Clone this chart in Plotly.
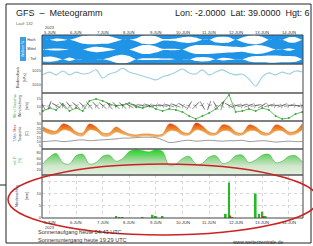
import plotly.graph_objects as go

W, H = 313, 246

# ---------------- data ----------------
day_labels = ["5.JUN", "6.JUN", "7.JUN", "8.JUN", "9.JUN", "10.JUN",
              "11.JUN", "12.JUN", "13.JUN", "14.JUN"]
year_label = "2023"
hours = [-6 + 6 * i for i in range(40)]          # hours since 5.JUN 00 UTC

cloud_high = [0, 0, 30, 20, 0, 40, 90, 100, 100, 90, 80, 40, 0, 0, 30, 90, 100, 80, 20, 20,
              30, 60, 70, 50, 0, 0, 60, 70, 60, 0, 50, 90, 100, 70, 0, 0, 0, 60, 60, 0]
cloud_mid = [0, 15, 20, 15, 0, 0, 0, 40, 60, 50, 30, 0, 0, 0, 50, 100, 100, 70, 15, 15,
             15, 0, 60, 100, 100, 100, 90, 80, 70, 60, 50, 80, 100, 90, 50, 0, 0, 30, 0, 0]
cloud_low = [50, 60, 40, 0, 40, 0, 0, 0, 0, 0, 30, 80, 100, 70, 0, 20, 20, 20, 15, 15,
             0, 0, 0, 40, 50, 40, 0, 30, 20, 0, 0, 50, 70, 70, 80, 80, 70, 70, 60, 0]

pressure = [1013.6, 1014.6, 1013.6, 1015.0, 1013.6, 1014.6, 1013.9, 1014.3, 1015.4, 1012.5,
            1013.9, 1014.6, 1016.0, 1014.6, 1013.9, 1013.2, 1012.5, 1011.8, 1012.9, 1013.6,
            1014.6, 1015.7, 1014.3, 1013.9, 1015.4, 1013.6, 1014.6, 1015.4, 1014.3, 1013.6,
            1013.9, 1012.1, 1009.6, 1012.9, 1014.3, 1013.6, 1014.6, 1013.9, 1015.0, 1014.6]

wind_speed = [6.8, 8.8, 7.5, 11.6, 6.8, 8.8, 6.8, 13.6, 15.0, 13.6, 11.6, 10.2, 10.9, 12.2,
              9.5, 8.8, 10.2, 8.2, 6.8, 8.2, 7.5, 6.1, 3.4, 1.4, 3.4, 5.4, 8.2, 12.2, 17.7,
              6.1, 6.8, 8.2, 6.8, 8.8, 7.5, 3.4, 1.4, 2.0, 4.8, 6.1]
wind_dir = [330, 20, 300, 315, 320, 310, 315, 320, 315, 310, 320, 315, 310, 300, 290, 280,
            285, 275, 280, 285, 290, 300, 30, 45, 150, 200, 330, 20, 300, 80, 75, 70, 80, 60,
            75, 85, 70, 80, 90, 75]

temp_hi = [26.6, 23.2, 22.0, 30.0, 27.7, 20.9, 19.8, 30.0, 26.6, 19.8, 19.8, 26.6, 22.0, 18.6,
           17.5, 18.6, 18.6, 17.5, 18.6, 30.0, 27.7, 20.9, 19.8, 31.1, 27.7, 20.9, 19.8, 28.9,
           27.7, 20.9, 19.8, 28.9, 26.6, 20.9, 19.8, 28.9, 26.6, 20.9, 22.0, 30.0]
temp_lo = [22.0, 18.6, 18.6, 23.2, 22.0, 17.5, 16.4, 23.2, 22.0, 16.4, 16.4, 20.9, 18.6, 16.4,
           15.2, 16.4, 16.4, 15.2, 16.4, 22.0, 22.0, 17.5, 17.5, 23.2, 22.0, 17.5, 17.5, 22.0,
           22.0, 17.5, 17.5, 22.0, 22.0, 17.5, 17.5, 22.0, 22.0, 17.5, 18.6, 23.2]
dewpoint = [10, 10.5, 11, 10, 10.5, 11.5, 12, 11, 11.5, 12, 12.5, 13, 14, 14, 14.5, 15, 15,
            14.5, 12, 9, 9.5, 11, 11.5, 10.5, 11, 11.5, 11, 10.5, 11, 11, 11.5, 10, 10.5, 11,
            10.5, 9.5, 10, 10.5, 10, 10]

humidity = [40, 65, 78, 45, 40, 70, 75, 40, 45, 68, 72, 50, 60, 85, 92, 88, 84, 92, 85, 35,
            40, 60, 68, 40, 42, 65, 70, 42, 48, 70, 72, 45, 55, 72, 75, 45, 50, 68, 70, 48]

precip_hours = [60, 63, 66, 84, 93, 96, 102, 159, 162, 165, 186, 189, 192, 195]
precip = [0.5, 0.4, 0.3, 0.4, 1.3, 0.6, 0.6, 1.7, 14.6, 0.4, 10.1, 1.6, 2.6, 0.6]
precip_red_hours = [163, 193]
precip_red = [1.0, 0.7]

# ---------------- layout helpers ----------------
FONT = "Liberation Sans"
def px(x): return x / W
def py(y): return 1 - y / H

X0, X1 = 42, 303
DAY0_X, DAY_PX = 49.5, 26.6
T_MIN = (X0 - DAY0_X) / DAY_PX
T_MAX = (X1 - DAY0_X) / DAY_PX
PANELS = [35, 64, 93, 121, 149, 175, 218]

t = [h / 24 for h in hours]
fig = go.Figure()

def ax(k):
    return ("x" if k == 1 else f"x{k}"), ("y" if k == 1 else f"y{k}")

# ---- clouds ----
xa, ya = ax(1)
for center, cov in [(2.5, cloud_high), (1.5, cloud_mid), (0.5, cloud_low)]:
    up = [center + c / 100 * 0.46 for c in cov]
    lo = [center - c / 100 * 0.46 for c in cov]
    fig.add_trace(go.Scatter(x=t + t[::-1], y=up + lo[::-1], fill="toself",
                             fillcolor="white", mode="lines",
                             line=dict(width=0, shape="spline", smoothing=0.6),
                             xaxis=xa, yaxis=ya, hoverinfo="skip"))

# ---- pressure ----
xa, ya = ax(2)
fig.add_trace(go.Scatter(x=t, y=pressure, mode="lines",
                         line=dict(color="#9ccfe0", width=1.1, shape="spline"),
                         xaxis=xa, yaxis=ya))

# ---- wind ----
xa, ya = ax(3)
fig.add_trace(go.Scatter(x=t, y=wind_speed, mode="lines+markers",
                         line=dict(color="#3caa3c", width=0.8),
                         marker=dict(size=2, color="#3caa3c"),
                         xaxis=xa, yaxis=ya))
fig.add_trace(go.Scatter(x=t, y=[10.5] * len(t), mode="markers",
                         marker=dict(symbol="line-ns", size=7, angle=wind_dir, color="#333",
                                     line=dict(width=0.55, color="#333")),
                         xaxis=xa, yaxis=ya))
fig.add_trace(go.Scatter(x=t, y=[10.5] * len(t), mode="markers",
                         marker=dict(symbol="y-up-open", size=4, angle=wind_dir, color="#444",
                                     line=dict(width=0.45, color="#444")),
                         xaxis=xa, yaxis=ya))

# ---- temperature ----
xa, ya = ax(4)
fig.add_trace(go.Scatter(x=t, y=dewpoint, mode="lines",
                         line=dict(color="#9a9a9a", width=1, shape="spline"),
                         xaxis=xa, yaxis=ya))
fig.add_trace(go.Scatter(x=t, y=temp_lo, mode="lines",
                         line=dict(color="#e8a050", width=0.5, shape="spline"),
                         xaxis=xa, yaxis=ya))
fig.add_trace(go.Scatter(x=t, y=temp_hi, mode="lines", fill="tonexty",
                         fillgradient=dict(type="vertical", start=16, stop=31,
                                           colorscale=[[0, "#f2b870"], [0.55, "#ec8a2e"],
                                                       [0.85, "#e8561a"], [1, "#e01010"]]),
                         line=dict(color="#e07020", width=0.6, shape="spline"),
                         xaxis=xa, yaxis=ya))

# ---- humidity ----
xa, ya = ax(5)
fig.add_trace(go.Scatter(x=t, y=humidity, mode="lines", fill="tozeroy",
                         fillgradient=dict(type="vertical", start=0, stop=92,
                                           colorscale=[[0, "#e2f0df"], [0.35, "#cfe8cb"],
                                                       [0.6, "#9ed89a"], [1, "#22d422"]]),
                         line=dict(color="#3cb43c", width=0.6, shape="spline"),
                         xaxis=xa, yaxis=ya))

# ---- precipitation ----
xa, ya = ax(6)
fig.add_trace(go.Bar(x=[h / 24 for h in precip_hours], y=precip, width=0.07,
                     marker=dict(color="#22bb22", line=dict(width=0)),
                     xaxis=xa, yaxis=ya))
fig.add_trace(go.Bar(x=[h / 24 for h in precip_red_hours], y=precip_red, width=0.05,
                     marker=dict(color="#dd3311", line=dict(width=0)),
                     xaxis=xa, yaxis=ya))

# ---------------- axes ----------------
yranges = [[0, 3], [1007.1, 1017.5], [0, 19], [1.6, 33.4], [0, 94.5], [0, 17.7]]
yticks = [[], [1010, 1015], [5, 10, 15], [5, 10, 15, 20, 25, 30], [20, 40, 60, 80], [0, 5, 10, 15]]
ytext = [[], ["1010", "1015"], ["5", "10", "15"], ["5", "10", "15", "20", "25", "30"],
         ["20", "40", "60", "80"], ["0", "5", "10", ""]]
layout = {}
for k in range(1, 7):
    top, bot = PANELS[k - 1], PANELS[k]
    xn = "xaxis" if k == 1 else f"xaxis{k}"
    yn = "yaxis" if k == 1 else f"yaxis{k}"
    layout[xn] = dict(domain=[px(X0), px(X1)], range=[T_MIN, T_MAX], anchor=ax(k)[1],
                      showticklabels=False, ticks="", zeroline=False, showline=False,
                      showgrid=(k == 6), tickvals=list(range(10)), gridcolor="#d6d6d6",
                      griddash="dot", gridwidth=0.6, automargin=False, fixedrange=True)
    layout[yn] = dict(domain=[py(bot), py(top)], range=yranges[k - 1], anchor=ax(k)[0],
                      tickvals=yticks[k - 1], ticktext=ytext[k - 1], ticks="",
                      tickfont=dict(size=4, color="#444", family=FONT),
                      showgrid=(k == 6), gridcolor="#d6d6d6", gridwidth=0.6, griddash="dot",
                      zeroline=False, showline=False, automargin=False, fixedrange=True)

# ---------------- shapes ----------------
shapes = []
shapes.append(dict(type="rect", xref="x domain", yref="y domain", x0=0, x1=1, y0=0, y1=1,
                   fillcolor="#1f93e6", line=dict(width=0), layer="below"))
shapes.append(dict(type="rect", xref="paper", yref="paper", x0=px(X0), x1=px(X1),
                   y0=py(PANELS[-1]), y1=py(PANELS[0]), line=dict(color="#444", width=1)))
for yy in PANELS[1:-1]:
    shapes.append(dict(type="line", xref="paper", yref="paper", x0=px(X0), x1=px(X1),
                       y0=py(yy), y1=py(yy), line=dict(color="#555", width=1.6)))
# outer frame + side line
shapes.append(dict(type="rect", xref="paper", yref="paper", x0=px(6), x1=px(311),
                   y0=py(243), y1=py(4), line=dict(color="#222", width=1)))
shapes.append(dict(type="line", xref="paper", yref="paper", x0=0, x1=px(6),
                   y0=py(185), y1=py(185), line=dict(color="#222", width=1)))
# "Wolken" box
shapes.append(dict(type="rect", xref="paper", yref="paper", x0=px(20), x1=px(26),
                   y0=py(61), y1=py(37), fillcolor="#3b9fe6", line=dict(width=0)))
# red ellipse
shapes.append(dict(type="circle", xref="paper", yref="paper", x0=px(8), x1=px(318),
                   y0=py(235), y1=py(164), line=dict(color="#cc2222", width=1.5)))

# ---------------- annotations ----------------
ann = []
def txt(x, y, s, size=4, color="#333", xanchor="center", angle=0, xref="paper"):
    ann.append(dict(x=(px(x) if xref == "paper" else x), y=py(y), xref=xref, yref="paper",
                    text=s, showarrow=False, xanchor=xanchor, yanchor="middle",
                    textangle=angle, font=dict(size=size, color=color, family=FONT)))

txt(14, 13, "GFS  –  Meteogramm", size=9, color="#222", xanchor="left")
txt(173, 13, "Lon: -2.0000  Lat: 39.0000  Hgt: 6", size=9, color="#222", xanchor="left")
txt(14, 23, "Lauf: 132", size=4, color="#555", xanchor="left")
for d, lab in enumerate(day_labels):
    txt(d, 32, lab, size=4.2, color="#333", xref="x")
    txt(d, 222, lab, size=4.2, color="#333", xref="x6")
txt(0, 27.5, year_label, size=4, color="#333", xref="x")
txt(0, 227, year_label, size=4, color="#333", xref="x6")

# side titles
txt(23, 49, "Wolken %", size=3.6, color="white", angle=-90)
txt(38, 40, "- Hoch", size=3.6, color="#333", xanchor="right")
txt(38, 49.5, "- Mittel", size=3.6, color="#333", xanchor="right")
txt(38, 59, "- Tief", size=3.6, color="#333", xanchor="right")
txt(17, 78, "Bodendruck", size=4, color="#333", angle=-90)
txt(25, 78, "[hPa]", size=3.6, color="#333", angle=-90)
txt(15, 106, "Wind Geschw.", size=3.8, color="#3caa3c", angle=-90)
txt(20, 106, "Windrichtung", size=3.8, color="#333", angle=-90)
txt(27, 106, "[m/s]", size=3.6, color="#333", angle=-90)
txt(15, 134, "<span style='color:#2a6ad0'>T.Min</span> <span style='color:#d02020'>Max</span>",
    size=3.8, angle=-90)
txt(20, 134, "Taupunkt", size=3.8, color="#333", angle=-90)
txt(27, 134, "[C]", size=3.6, color="#333", angle=-90)
txt(15, 161, "rel. F.", size=3.8, color="#3caa3c", angle=-90)
txt(20, 161, "[%]", size=3.6, color="#3caa3c", angle=-90)
txt(17, 196, "Niederschlag", size=3.8, color="#333", angle=-90)
txt(27, 196, "[mm]", size=3.6, color="#333", angle=-90)

txt(36, 232, "Sonnenaufgang heute 04:43 UTC", size=5.6, color="#333", xanchor="left")
txt(36, 240, "Sonnenuntergang heute 19:29 UTC", size=5.6, color="#333", xanchor="left")
txt(258, 241.5, "www.wetterzentrale.de", size=5, color="#333")

fig.update_layout(width=W, height=H, margin=dict(l=0, r=0, t=0, b=0),
                  paper_bgcolor="white", plot_bgcolor="white", showlegend=False,
                  barmode="overlay", shapes=shapes, annotations=ann,
                  font=dict(family=FONT), **layout)

fig.write_html("out.html", config={"displayModeBar": False},
               post_script="document.body.style.margin='0';document.body.style.overflow='hidden';")
